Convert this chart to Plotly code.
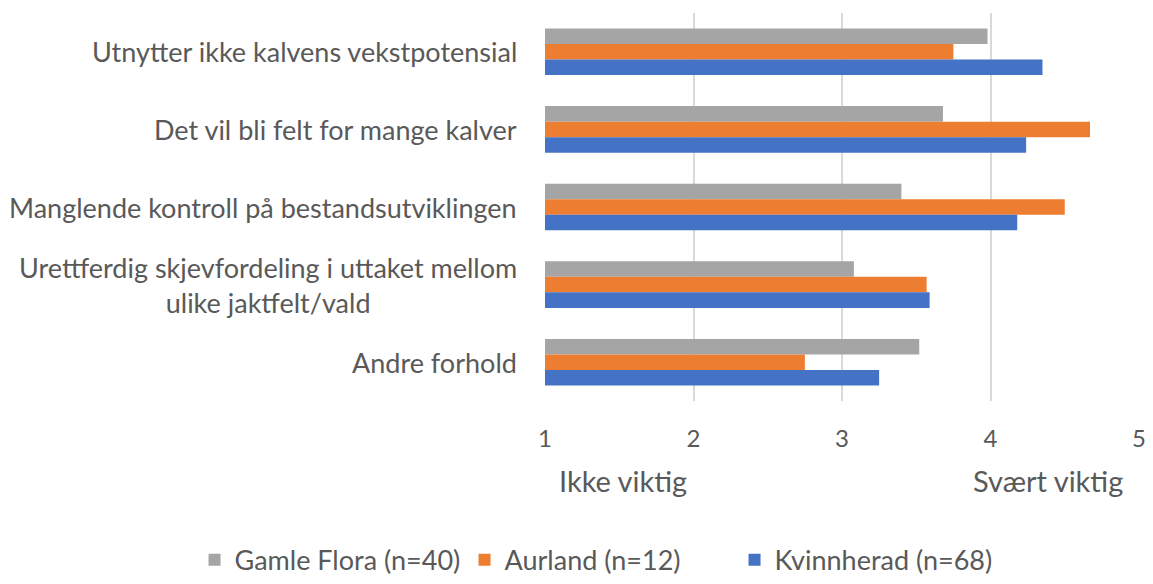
import plotly.graph_objects as go

categories = [
    "Utnytter ikke kalvens vekstpotensial",
    "Det vil bli felt for mange kalver",
    "Manglende kontroll på bestandsutviklingen",
    "Urettferdig skjevfordeling i uttaket mellom<br>ulike jaktfelt/vald",
    "Andre forhold",
]
series_names = ["Gamle Flora (n=40)", "Aurland (n=12)", "Kvinnherad (n=68)"]
gamle_flora = [3.98, 3.68, 3.40, 3.08, 3.52]
aurland = [3.75, 4.67, 4.50, 3.57, 2.75]
kvinnherad = [4.35, 4.24, 4.18, 3.59, 3.25]
colors = ["#A5A5A5", "#ED7D31", "#4472C4"]
tick_vals = [1, 2, 3, 4, 5]

FONT = "Lato, 'Noto Sans', sans-serif"
TXT = "#595959"

fig = go.Figure()
for name, vals, col in zip(series_names, [gamle_flora, aurland, kvinnherad], colors):
    fig.add_trace(go.Bar(
        y=categories, x=[v - 1 for v in vals], base=1, name=name,
        orientation="h", marker=dict(color=col, line=dict(width=0)),
    ))

for cat in categories:
    fig.add_annotation(
        x=0, xref="paper", y=cat, yref="y", xanchor="right", yanchor="middle",
        xshift=-26, text=cat, showarrow=False, align="center",
        font=dict(family=FONT, size=27, color=TXT),
    )

fig.add_annotation(x=0.02, xref="paper", y=-0.204, yref="paper", xanchor="left",
                   yanchor="middle", text="Ikke viktig", showarrow=False,
                   font=dict(family=FONT, size=29, color=TXT))
fig.add_annotation(x=0.976, xref="paper", y=-0.204, yref="paper", xanchor="right",
                   yanchor="middle", text="Svært viktig", showarrow=False,
                   font=dict(family=FONT, size=29, color=TXT))

fig.update_layout(
    width=1137, height=568,
    margin=dict(l=537, r=6, t=5, b=175, autoexpand=False),
    paper_bgcolor="white", plot_bgcolor="white",
    barmode="group", bargap=0.4, bargroupgap=0,
    showlegend=True,
    legend=dict(orientation="h", x=-0.59, xanchor="left", y=-0.41, yanchor="middle",
                font=dict(family=FONT, size=27, color=TXT), itemwidth=30,
                entrywidthmode="pixels", entrywidth=225,
                tracegroupgap=0),
    xaxis=dict(range=[1, 5], tickvals=tick_vals, showgrid=True, gridcolor="#D9D9D9",
               gridwidth=2, zeroline=False, showline=False, automargin=False,
               tickfont=dict(family=FONT, size=24, color=TXT),
               ticklabeloverflow="allow",
               ticks="outside", ticklen=16, tickcolor="rgba(0,0,0,0)"),
    yaxis=dict(autorange="reversed", showticklabels=False, showgrid=False,
               zeroline=False, showline=False, automargin=False),
)

fig.write_html("out.html")
